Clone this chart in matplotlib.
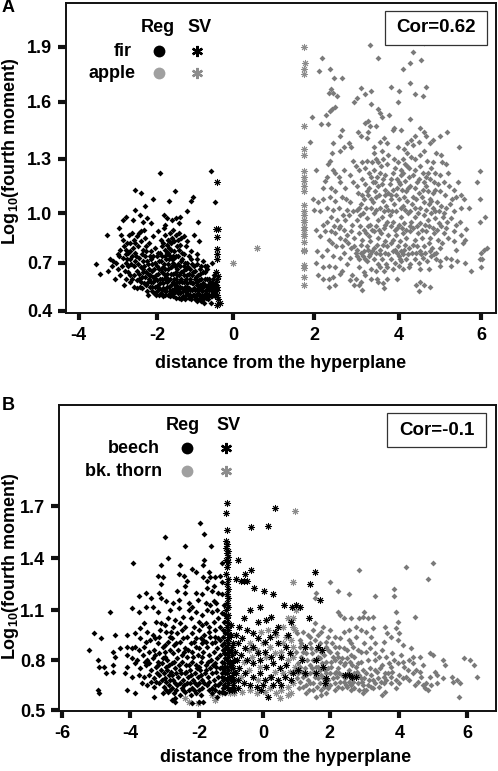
import numpy as np
import matplotlib
matplotlib.use('Agg')
import matplotlib.pyplot as plt
from matplotlib.patches import Rectangle

plt.rcParams['font.family'] = ['Liberation Sans', 'DejaVu Sans']
plt.rcParams['font.weight'] = 'bold'
plt.rcParams['mathtext.fontset'] = 'custom'
plt.rcParams['mathtext.bf'] = 'Liberation Sans:bold'

W, H = 498, 771

#-----------------------------------------------------
# values

A_XTICKS = [-4, -2, 0, 2, 4, 6]
A_YTICKS = [0.4, 0.7, 1.0, 1.3, 1.6, 1.9]
B_XTICKS = [-6, -4, -2, 0, 2, 4, 6]
B_YTICKS = [0.5, 0.8, 1.1, 1.4, 1.7]

# the printed ticks are not evenly spaced, so keep where each one sits
A_XTICK_PX = [78.7, 157, 233, 314, 399, 481]
A_YTICK_PX = [310.7, 262.7, 213.3, 158.7, 101.7, 47]
B_XTICK_PX = [62, 130, 199.3, 263, 329.7, 399.3, 467]
B_YTICK_PX = [710, 660, 610, 558.3, 506]

FIR_REG = [
(-1.92,1.22),(-0.59,1.23),(-2.57,1.13),(-2.42,1.11),(-1.53,1.12),(-2.1,1.08),(-1.68,1.07),(-1.06,1.09),(-1.1,1.07),(-0.48,1.06),
(-2.3,1.04),(-2.57,1.02),(-1.21,1.01),(-2.44,.99),(-1.82,.99),(-1.75,.97),(-1.4,.98),(-2.78,.98),(-2.88,.96),(-2.62,.96),
(-2.35,.95),(-2.25,.97),(-2.15,.94),(-1.6,.96),(-1.5,.97),(-1.43,.94),(-.93,.95),(-1.8,.93),(-3.27,.87),(-2.98,.91),
(-2.92,.87),(-2.86,.84),(-2.72,.87),(-2.65,.88),(-2.6,.84),(-2.52,.86),(-2.45,.88),(-2.4,.89),(-2.33,.9),(-2.3,.85),
(-2.2,.82),(-2.1,.86),(-1.97,.89),(-1.9,.84),(-1.82,.91),(-1.78,.87),(-1.72,.84),(-1.65,.88),(-1.58,.9),(-1.5,.87),
(-1.43,.88),(-1.38,.85),(-1.3,.86),(-1.2,.83),(-1.02,.87),(-.9,.83),(-2.85,.8),(-2.78,.78),(-2.7,.82),(-2.62,.79),
(-2.55,.76),(-2.48,.8),(-2.42,.83),(-2.35,.78),(-2.28,.8),(-2.15,.77),(-2.05,.79),(-1.98,.76),(-1.88,.8),(-1.8,.78),
(-1.75,.81),(-1.68,.79),(-1.62,.82),(-1.56,.77),(-1.48,.8),(-1.42,.78),(-1.35,.76),(-1.25,.8),(-1.1,.77),(-.95,.75),
(-3.55,.69),(-3.45,.63),(-3.2,.72),(-3.15,.68),(-3.25,.65),(-3.12,.71),(-3.05,.7),(-3.0,.66),(-3.08,.6),(-2.95,.62),
(-2.9,.68),(-2.88,.73),(-2.8,.75),(-2.8,.7),(-2.75,.64),(-2.7,.72),(-2.85,.56),(-2.7,.58),(-2.65,.74),(-2.6,.68),
(-2.58,.62),(-2.55,.71),(-2.5,.65),(-2.5,.59),(-2.46,.73),(-2.44,.55),(-2.42,.67),(-2.38,.61),(-2.36,.71),(-2.33,.57),
(-2.3,.74),(-2.28,.64),(-2.26,.52),(-2.22,.69),(-2.2,.6),(-2.18,.55),(-2.15,.72),(-2.13,.65),(-2.1,.58),(-2.08,.51),
(-2.05,.7),(-2.03,.62),(-2.0,.74),(-1.98,.56),(-1.96,.66),(-1.93,.6),(-1.9,.71),(-1.88,.53),(-1.86,.64),(-1.84,.57),
(-1.82,.69),(-1.8,.5),(-1.78,.74),(-1.76,.61),(-1.74,.55),(-1.72,.66),(-1.7,.59),(-1.68,.72),(-1.66,.52),(-1.64,.63),
(-1.62,.56),(-1.6,.68),(-1.58,.49),(-1.56,.6),(-1.54,.73),(-1.52,.54),(-1.5,.64),(-1.48,.58),(-1.46,.69),(-1.44,.51),
(-1.42,.62),(-1.4,.55),(-1.38,.71),(-1.36,.6),(-1.34,.48),(-1.32,.65),(-1.3,.53),(-1.28,.58),(-1.26,.7),(-1.24,.5),
(-1.22,.62),(-1.2,.55),(-1.18,.67),(-1.16,.48),(-1.14,.6),(-1.12,.53),(-1.1,.72),(-1.08,.57),(-1.06,.5),(-1.04,.64),
(-1.02,.54),(-1.0,.47),(-.98,.61),(-.96,.56),(-.94,.69),(-.92,.51),(-.9,.59),(-.88,.47),(-.86,.63),(-.84,.54),
(-.82,.5),(-.8,.71),(-.78,.57),(-.76,.45),(-.74,.6),(-.72,.52),(-.7,.48),(-.68,.66),(-.66,.55),(-.64,.6),
(-.62,.5),(-.6,.54),(-.58,.45),(-.56,.7),(-.54,.57),(-.52,.51),(-.5,.62),(-.5,.54),(-.48,.49),(-.46,.56),
(-2.47,.63),(-2.41,.58),(-2.35,.66),(-2.31,.61),(-2.24,.63),(-2.2,.66),(-2.16,.58),(-2.11,.61),(-2.07,.66),(-2.04,.55),
(-2.0,.59),(-1.97,.63),(-1.94,.54),(-1.91,.57),(-1.87,.6),(-1.85,.67),(-1.83,.54),(-1.79,.6),(-1.77,.52),(-1.75,.58),
(-1.73,.63),(-1.69,.55),(-1.67,.6),(-1.65,.49),(-1.63,.67),(-1.61,.53),(-1.59,.58),(-1.57,.63),(-1.55,.51),(-1.53,.56),
(-1.51,.6),(-1.49,.52),(-1.47,.62),(-1.45,.55),(-1.43,.48),(-1.41,.58),(-1.39,.51),(-1.37,.64),(-1.35,.54),(-1.33,.58),
(-1.31,.49),(-1.29,.62),(-1.27,.55),(-1.25,.6),(-1.23,.52),(-1.21,.57),(-1.19,.5),(-1.17,.63),(-1.15,.54),(-1.13,.58),
(-1.11,.47),(-1.09,.62),(-1.07,.53),(-1.05,.57),(-1.03,.5),(-1.01,.6),(-.99,.53),(-.97,.48),(-.95,.58),(-.93,.53),
(-.91,.62),(-.89,.5),(-.87,.56),(-.85,.46),(-.83,.6),(-.81,.52),(-.79,.55),(-.77,.49),(-.75,.64),(-.73,.56),
(-.71,.53),(-.69,.6),(-.67,.5),(-.65,.56),(-.63,.53),(-.61,.58),(-.59,.49),(-.57,.54),(-.55,.52),(-.53,.6),
# second pass over the thick part of the cloud
(-2.77,.82),(-2.68,.77),(-2.66,.69),(-2.57,.82),(-2.53,.74),(-2.49,.69),(-2.39,.75),(-2.37,.64),(-2.32,.68),(-2.27,.77),
(-2.25,.71),(-2.23,.58),(-2.19,.74),(-2.17,.62),(-2.12,.69),(-2.09,.74),(-2.06,.6),(-2.01,.68),(-1.99,.52),(-1.95,.71),
(-1.89,.66),(-1.81,.63),(-1.78,.66),(-1.71,.69),(-1.74,.76),(-1.69,.83),(-1.66,.74),(-1.63,.78),(-1.61,.85),(-1.6,.72),
(-1.55,.83),(-1.57,.7),(-1.53,.68),(-1.51,.74),(-1.47,.66),(-1.46,.84),(-1.44,.74),(-1.4,.68),(-1.39,.81),(-1.34,.72),
(-1.3,.68),(-1.28,.75),(-1.24,.66),(-1.21,.7),(-1.17,.74),(-1.14,.66),(-1.09,.69),(-1.03,.68),(-.99,.65),(-.96,.72),
(-.88,.66),(-.85,.68),(-.78,.64),(-.73,.68),(-.69,.68),(-2.94,.78),(-2.97,.74),(-2.75,.76),(-2.73,.68),(-2.69,.62),
(-2.63,.6),(-2.6,.55),(-2.52,.54),(-2.46,.6),(-2.39,.54),(-2.29,.56),(-2.24,.5),(-2.14,.52),(-2.12,.55),(-2.02,.5),
(-1.95,.5),(-1.9,.51),(-1.85,.49),(-1.81,.53),(-1.72,.5),(-1.68,.5),(-1.62,.5),(-1.56,.53),(-1.5,.48),(-1.46,.53),
(-1.38,.47),(-1.32,.52),(-1.26,.47),(-1.2,.51),(-1.14,.5),(-1.1,.49),(-.98,.5),(-.94,.46),(-.9,.54),(-.86,.49),
(-.8,.47),(-.74,.5),(-.7,.51),(-.65,.47),(-.62,.54),(-.58,.56),(-.55,.49),(-.52,.54),(-.48,.52),(-.46,.5),
(-3.0,.75),(-2.83,.65),(-2.78,.6),(-2.76,.72),(-1.92,.76),(-1.86,.74),(-1.84,.82),(-1.77,.72),(-1.7,.76),(-1.58,.74),
]
FIR_SV = [
(-.42,1.17),(-.44,.905),(-.4,.905),(-.42,.855),(-.42,.785),(-.42,.75),(-.42,.72),(-.4,.615),(-.44,.64),(-.42,.6),
(-.42,.55),(-.42,.53),(-.42,.5),(-.4,.47),(-.35,.45),(-.42,.435),(-.44,.58),
]
APPLE_REG = [
(3.32,1.91),(4.6,1.92),(4.34,1.87),(3.5,1.84),(4.53,1.83),(4.27,1.81),(2.18,1.84),(2.12,1.77),(2.37,1.78),(4.09,1.78),
(2.46,1.73),(2.65,1.73),(2.4,1.67),(2.45,1.65),(2.36,1.65),(2.55,1.63),(3.1,1.675),(3.2,1.64),(3.35,1.66),(3.0,1.62),
(2.93,1.6),(3.8,1.68),(4.0,1.66),(4.26,1.7),(4.65,1.68),(4.39,1.64),(4.58,1.63),(3.98,1.6),(3.35,1.59),(2.42,1.56),
(2.38,1.55),(2.5,1.57),(3.5,1.56),(3.55,1.54),(3.6,1.52),(3.76,1.53),(3.2,1.49),(3.28,1.5),(3.32,1.47),(3.28,1.44),
(3.45,1.47),(1.95,1.52),(2.28,1.53),(2.34,1.48),(2.16,1.48),(4.27,1.51),(2.65,1.45),(2.6,1.42),(2.45,1.38),(3.03,1.44),
(3.1,1.42),(3.25,1.41),(3.89,1.46),(3.85,1.45),(4.05,1.45),(3.55,1.39),(3.65,1.41),(3.72,1.38),(4.52,1.46),(4.6,1.44),
(4.66,1.42),(5.17,1.44),(5.0,1.42),(4.83,1.4),(4.75,1.38),(1.9,1.39),(5.47,1.36),(4.4,1.42),(4.3,1.4),(4.2,1.38),
(4.35,1.37),(4.48,1.39),(2.7,1.36),(2.6,1.34),(2.82,1.38),(2.88,1.36),(3.4,1.36),(3.42,1.33),(3.45,1.3),(3.6,1.34),
(3.62,1.3),(3.98,1.36),(4.12,1.35),(4.2,1.33),(4.3,1.31),(4.1,1.3),(3.98,1.28),(4.15,1.27),(4.25,1.25),(4.05,1.24),
(4.6,1.34),(4.9,1.33),(5.02,1.32),(5.05,1.28),(5.15,1.27),(4.82,1.28),(4.78,1.25),(4.7,1.22),(4.58,1.22),(5.2,1.22),
(5.0,1.21),(2.42,1.33),(2.38,1.29),(2.34,1.27),(2.45,1.24),(2.5,1.22),(2.58,1.2),(2.7,1.24),(2.92,1.29),(2.98,1.26),
(3.05,1.24),(3.2,1.25),(3.3,1.22),(3.4,1.24),(3.48,1.2),(3.55,1.22),(3.62,1.19),(3.72,1.27),(3.85,1.22),(3.95,1.19),
(4.05,1.21),(4.15,1.18),(4.25,1.2),(4.4,1.24),(4.48,1.19),(4.62,1.17),(4.75,1.19),(4.85,1.17),(4.95,1.16),(5.1,1.17),
(5.22,1.15),(5.35,1.13),(5.43,1.17),(2.05,1.24),(2.3,1.2),(2.2,1.14),(2.25,1.18),(2.4,1.14),(2.5,1.12),(2.62,1.17),
(2.74,1.14),(2.85,1.21),(2.92,1.17),(3.02,1.15),(3.12,1.19),(3.2,1.16),(3.3,1.14),(3.38,1.17),(3.5,1.15),(3.6,1.16),
(3.68,1.13),(3.78,1.16),(3.85,1.13),(3.95,1.14),(4.08,1.13),(4.18,1.12),(4.28,1.15),(4.38,1.14),(4.48,1.11),(4.58,1.13),
(4.7,1.12),(4.82,1.11),(5.0,1.12),(5.12,1.1),(5.3,1.08),(5.4,1.09),(5.5,1.1),(5.58,1.08),(1.98,1.08),(2.1,1.06),
(2.22,1.08),(2.38,1.09),(2.5,1.07),(2.65,1.09),(2.75,1.08),(2.85,1.06),(3.0,1.02),(3.1,1.05),(3.18,1.08),(3.28,1.1),
(3.38,1.06),(3.45,1.09),(3.55,1.03),(3.62,1.07),(3.7,1.04),(3.8,1.08),(3.88,1.05),(4.0,1.08),(4.1,1.04),(4.2,1.07),
(4.32,1.05),(4.42,1.08),(4.52,1.03),(4.6,1.06),(4.72,1.05),(4.82,1.03),(4.92,1.06),(5.02,1.04),(5.15,1.03),(5.25,1.05),
(5.35,1.01),(5.5,1.03),(2.0,1.02),(2.2,.93),(2.3,.95),(2.4,.98),(2.55,.96),(2.62,.92),(2.72,.96),(2.82,.99),
(2.9,.93),(3.0,.96),(3.08,.99),(3.15,1.0),(3.25,.97),(3.32,.93),(3.42,1.0),(3.5,.96),(3.6,.98),(3.68,.93),
(3.78,.99),(3.85,.95),(3.95,.91),(4.05,.98),(4.12,.94),(4.22,1.0),(4.3,.95),(4.4,.98),(4.5,.94),(4.6,.99),
(4.7,.96),(4.78,1.0),(4.88,.97),(4.98,.94),(5.08,.98),(5.18,.95),(5.28,.97),(5.38,.93),(5.48,.95),(2.5,.88),
(2.6,.85),(2.7,.9),(2.78,.87),(2.88,.89),(2.95,.85),(3.05,.88),(3.12,.84),(3.22,.88),(3.3,.86),(3.4,.89),
(3.5,.85),(3.58,.88),(3.66,.83),(3.75,.87),(3.85,.84),(3.92,.87),(4.02,.83),(4.1,.88),(4.18,.85),(4.28,.89),
(4.38,.84),(4.46,.88),(4.56,.85),(4.65,.89),(4.75,.85),(4.85,.88),(4.95,.84),(5.1,.88),(5.2,.85),(5.35,.89),
(5.5,.87),(5.6,.84),(5.55,.82),(2.05,.9),(2.15,.86),(2.35,.84),(2.42,.82),(2.52,.8),(2.95,.8),(3.02,.78),
(3.1,.81),(3.18,.77),(3.25,.8),(3.32,.83),(3.4,.79),(3.48,.81),(3.55,.78),(3.63,.81),(3.72,.8),(3.8,.82),
(3.9,.78),(3.98,.8),(4.06,.77),(4.15,.81),(4.24,.79),(4.34,.81),(4.44,.8),(4.52,.77),(4.62,.8),(4.72,.82),
(4.8,.79),(4.9,.76),(5.0,.79),(5.05,.82),(2.08,.77),(2.18,.74),(2.3,.78),(2.45,.74),(2.6,.73),(2.7,.76),
(2.85,.73),(2.98,.76),(3.05,.72),(3.15,.74),(3.25,.71),(3.32,.75),(3.42,.72),(3.5,.69),(3.6,.72),(3.7,.69),
(3.8,.72),(3.9,.7),(4.0,.74),(4.1,.75),(4.18,.72),(4.28,.69),(4.38,.72),(4.48,.7),(4.58,.73),(4.68,.71),
(4.78,.74),(4.9,.72),(5.0,.71),(5.15,.73),(5.28,.72),(5.42,.71),(2.05,.7),(2.2,.67),(2.35,.68),(2.5,.67),
(2.65,.65),(2.78,.69),(3.05,.67),(3.18,.64),(3.35,.66),(3.45,.65),(3.55,.67),(3.72,.67),(3.85,.66),(4.0,.68),
(4.1,.66),(4.25,.67),(4.5,.66),(4.72,.66),(5.0,.68),(5.28,.68),(2.1,.62),(2.22,.6),(2.35,.6),(2.45,.61),
(2.62,.63),(2.9,.62),(2.98,.6),(3.1,.58),(3.2,.62),(3.35,.6),(3.48,.6),(3.62,.57),(3.72,.6),(3.95,.6),
(2.35,.55),(2.5,.56),(2.85,.59),(3.12,.53),(3.5,.58),(3.65,.54),(4.42,.56),(4.52,.58),(4.62,.56),(4.48,.52),
(4.75,.55),(3.05,.56),(2.95,.56),(5.97,1.23),(5.9,1.17),(5.97,1.08),(5.7,1.03),(6.1,.98),(5.98,.95),(5.63,.905),
(6.15,.79),(6.08,.78),(6.0,.76),(5.97,.725),(6.02,.725),(6.0,.675),(5.75,.645),(5.62,.7),(5.4,.78),(5.35,.83),
# second pass over the thick part of the cloud
(3.03,1.11),(3.14,1.1),(3.24,1.12),(3.33,1.08),(3.43,1.12),(3.52,1.1),(3.66,1.1),(3.74,1.11),(3.82,1.1),(3.92,1.1),
(4.02,1.16),(4.12,1.09),(4.22,1.14),(4.34,1.09),(4.44,1.17),(4.56,1.09),(4.66,1.15),(4.76,1.08),(4.88,1.13),(3.08,.92),
(3.17,.9),(3.27,.92),(3.36,.9),(3.46,.92),(3.54,.9),(3.64,.91),(3.72,.95),(3.82,.92),(3.9,.9),(4.0,.93),
(4.08,.91),(4.16,.9),(4.26,.92),(4.35,.91),(4.44,.92),(4.55,.9),(4.64,.93),(4.74,.92),(4.84,.91),(4.93,.9),
(5.03,.92),(5.14,.91),(3.0,.74),(3.1,.76),(3.2,.72),(3.28,.78),(3.37,.77),(3.46,.76),(3.56,.75),(3.66,.76),
(3.75,.75),(3.85,.77),(3.95,.76),(4.04,.71),(4.13,.78),(4.22,.75),(4.32,.76),(4.42,.76),(4.54,.75),(4.64,.76),
(4.75,.77),(4.85,.75),(2.8,.82),(2.88,.79),(2.66,.8),(2.74,.84),(2.4,.89),(2.48,.92),(2.58,.91),(2.68,.99),
(2.78,1.02),(2.92,1.01),(3.05,1.03),(3.22,1.03),(3.34,1.03),(3.46,1.02),(3.65,1.01),(3.75,1.02),(3.84,1.01),(3.94,1.01),
(4.04,1.03),(4.15,1.02),(4.27,1.01),(4.38,1.03),(4.47,1.0),(4.66,1.02),(4.77,1.07),(4.87,1.01),(4.98,1.01),(5.1,1.0),
(3.34,1.2),(3.44,1.17),(3.58,1.26),(3.68,1.21),(3.8,1.19),(3.9,1.25),(4.0,1.17),(4.1,1.22),(4.2,1.26),(4.33,1.21),
(4.52,1.26),(4.65,1.2),(4.88,1.22),(3.12,1.28),(3.25,1.29),(3.36,1.28),(3.5,1.28),(3.75,1.32),(3.88,1.3),(4.4,1.3),
(4.5,1.32),(4.68,1.29),(2.15,1.01),(2.3,1.03),(2.45,1.02),(2.58,1.03),(2.25,.89),(3.3,.74),(4.02,.72),(3.64,.65),
]
APPLE_SV = [
(0,.7),(.59,.79),(1.75,1.9),(1.78,1.81),(1.75,1.78),(1.75,1.75),(1.75,1.47),(1.75,1.35),(1.75,1.32),(1.75,1.23),
(1.75,1.2),(1.75,1.18),(1.75,1.15),(1.75,1.12),(1.75,1.045),(1.75,1.01),(1.75,.96),(1.75,.945),(1.75,.915),(1.75,.875),
(1.75,.86),(1.75,.825),(1.75,.78),(1.75,.77),(1.75,.685),(1.75,.667),(1.75,.61),(1.75,.56),(1.75,.99),(1.75,.9),
]
BEECH_REG = [
(-1.98,1.6),(-1.85,1.54),(-3.0,1.52),(-2.4,1.47),(-1.63,1.47),(-2.9,1.4),(-3.9,1.37),(-3.1,1.36),(-2.55,1.36),(-2.2,1.34),
(-2.1,1.32),(-1.3,1.37),(-1.85,1.39),(-1.88,1.36),(-1.7,1.32),(-3.2,1.3),(-3.05,1.29),(-3.1,1.25),(-2.6,1.31),(-2.45,1.3),
(-2.35,1.27),(-2.4,1.24),(-1.87,1.29),(-1.75,1.27),(-1.65,1.29),(-1.52,1.29),(-1.55,1.24),(-1.3,1.26),(-1.35,1.3),(-1.75,1.23),
(-3.15,1.2),(-2.4,1.2),(-2.65,1.21),(-2.1,1.2),(-1.9,1.19),(-1.6,1.21),(-1.42,1.2),(-1.3,1.19),(-3.75,1.18),(-3.55,1.2),
(-3.4,1.17),(-3.1,1.17),(-2.95,1.15),(-2.75,1.14),(-2.6,1.16),(-2.3,1.14),(-2.05,1.16),(-1.8,1.14),(-1.65,1.13),(-1.55,1.15),
(-4.6,1.09),(-3.95,1.11),(-3.75,1.09),(-3.55,1.12),(-3.35,1.12),(-3.2,1.09),(-2.85,1.1),(-2.6,1.11),(-2.3,1.1),(-2.2,1.12),
(-2.1,1.09),(-1.9,1.07),(-1.75,1.1),(-1.6,1.09),(-1.45,1.1),(-1.3,1.08),(-3.25,1.03),(-3.1,1.02),(-2.9,1.05),(-2.75,1.0),
(-2.55,1.02),(-2.4,1.0),(-2.15,1.0),(-2.0,.98),(-1.8,1.02),(-1.68,1.0),(-1.55,1.03),(-1.35,1.0),(-1.22,1.03),(-3.7,.99),
(-3.5,.97),(-3.35,.95),(-3.15,.94),(-2.95,.97),(-2.8,.93),(-2.65,.96),(-2.5,.98),(-2.35,.94),(-2.2,.96),(-1.95,.93),
(-1.85,.95),(-1.7,.97),(-1.5,.94),(-1.35,.92),(-1.2,.96),(-5.05,.96),(-4.45,.95),(-4.1,.95),(-3.85,.96),(-3.7,.93),
(-3.55,.91),(-3.2,.9),(-3.05,.88),(-2.9,.91),(-2.72,.89),(-2.55,.91),(-2.42,.87),(-2.25,.9),(-2.1,.88),(-1.92,.9),
(-1.75,.88),(-1.6,.9),(-1.45,.87),(-1.3,.89),(-1.18,.87),(-4.85,.93),(-5.2,.86),(-4.1,.88),(-3.95,.87),(-3.85,.88),
(-3.75,.86),(-3.6,.88),(-3.45,.85),(-3.3,.86),(-3.15,.84),(-3.0,.85),(-2.85,.86),(-2.75,.84),(-2.62,.86),(-2.5,.83),
(-2.35,.82),(-2.2,.85),(-2.05,.83),(-1.88,.85),(-1.7,.83),(-1.55,.85),(-1.35,.83),(-1.2,.81),(-4.3,.87),(-4.5,.85),
(-4.95,.8),(-4.45,.82),(-4.1,.83),(-3.95,.81),(-3.8,.8),(-3.62,.83),(-3.5,.8),(-3.35,.81),(-3.2,.79),(-3.05,.81),
(-2.92,.8),(-2.8,.78),(-2.65,.81),(-2.5,.79),(-2.38,.77),(-2.22,.79),(-2.1,.77),(-1.95,.79),(-1.8,.77),(-1.62,.8),
(-1.5,.78),(-1.3,.79),(-1.2,.76),(-4.9,.76),(-4.75,.76),(-4.5,.77),(-4.1,.76),(-3.85,.78),(-3.7,.75),(-3.55,.77),
(-3.4,.74),(-3.25,.76),(-3.1,.74),(-2.95,.76),(-2.82,.73),(-2.7,.75),(-2.55,.74),(-2.42,.72),(-2.28,.74),(-2.12,.72),
(-1.98,.74),(-1.82,.72),(-1.65,.75),(-1.48,.73),(-1.35,.75),(-1.2,.72),(-4.7,.72),(-4.5,.73),(-4.15,.72),(-3.95,.7),
(-3.75,.71),(-3.6,.7),(-3.45,.71),(-3.3,.69),(-3.15,.71),(-3.0,.69),(-2.88,.71),(-2.75,.68),(-2.62,.7),(-2.48,.68),
(-2.32,.7),(-2.18,.68),(-2.05,.7),(-1.9,.68),(-1.72,.7),(-1.55,.68),(-1.4,.7),(-1.25,.68),(-3.65,.66),(-3.5,.65),
(-3.3,.64),(-3.15,.66),(-3.02,.64),(-2.88,.65),(-2.78,.63),(-2.65,.65),(-2.5,.63),(-2.35,.66),(-2.2,.63),(-2.08,.65),
(-1.92,.63),(-1.75,.65),(-1.6,.63),(-1.42,.65),(-1.25,.63),(-4.95,.62),(-4.9,.6),(-4.1,.62),(-3.85,.6),(-3.05,.6),
(-2.9,.61),(-2.72,.6),(-2.55,.59),(-2.4,.61),(-2.25,.59),(-2.1,.6),(-1.95,.59),(-1.6,.6),(-1.38,.61),(-3.3,.58),
(-2.78,.56),(-2.7,.55),(-2.2,.54),(-2.0,.55),(-1.88,.55),(-2.7,.57),(-1.45,.58),
# second pass over the thick part of the cloud
(-3.42,.92),(-3.27,.93),(-3.12,.98),(-2.98,.89),(-2.82,.97),(-2.66,.9),(-2.48,.93),(-2.32,.86),(-2.16,.91),(-2.02,.87),
(-1.87,.92),(-1.78,.91),(-1.66,.94),(-1.52,.91),(-1.42,.93),(-1.27,.94),(-1.22,.9),(-1.26,.86),(-3.58,.79),(-3.44,.78),
(-3.28,.83),(-3.18,.77),(-3.08,.78),(-2.98,.82),(-2.88,.77),(-2.72,.79),(-2.58,.77),(-2.45,.85),(-2.3,.77),(-2.18,.82),
(-2.02,.76),(-1.9,.82),(-1.74,.79),(-1.58,.77),(-1.44,.81),(-1.28,.76),(-1.22,.84),(-1.24,.74),(-3.22,.72),(-3.02,.72),
(-2.92,.74),(-2.78,.71),(-2.66,.72),(-2.52,.72),(-2.38,.73),(-2.24,.71),(-2.08,.75),(-1.94,.71),(-1.78,.74),(-1.6,.72),
(-1.46,.76),(-1.3,.72),(-1.22,.69),(-3.38,.67),(-3.24,.67),(-3.08,.68),(-2.95,.67),(-2.84,.68),(-2.7,.66),(-2.56,.66),
(-2.44,.65),(-2.26,.66),(-2.12,.66),(-2.0,.66),(-1.84,.66),(-1.68,.67),(-1.5,.65),(-1.34,.66),(-1.22,.65),(-2.96,.62),
(-2.84,.62),(-2.66,.62),(-2.46,.62),(-2.3,.62),(-2.14,.62),(-2.0,.62),(-1.7,.62),(-1.52,.62),(-1.3,.61),(-1.18,.6),
(-1.5,.98),(-1.25,.98),(-1.42,1.05),(-1.2,1.07),(-1.22,1.13),(-1.48,1.14),(-2.7,1.04),(-2.47,1.06),(-2.25,1.05),(-2.02,1.03),
(-1.9,1.01),(-3.0,1.01),(-3.6,1.02),(-1.28,.7),(-1.25,.61),(-1.24,.78),(-2.86,.94),(-2.1,.93),
]
BEECH_SV = [
(-1.12,1.72),(-1.15,1.66),(-1.12,1.56),(-1.15,1.5),(-1.12,1.48),(-1.15,1.46),(-1.1,1.44),(-1.14,1.43),(-1.1,1.41),(-1.15,1.39),
(-1.1,1.38),(-1.12,1.35),(-1.15,1.31),(-1.1,1.28),(-1.13,1.25),(-1.1,1.22),(-1.14,1.19),(-1.1,1.17),(-1.13,1.14),(-1.1,1.12),
(-1.15,1.1),(-1.1,1.07),(-1.13,1.05),(-1.1,1.02),(-1.14,1.0),(-1.1,.98),(-1.13,.96),(-1.08,.94),(-1.14,.92),(-1.1,.9),
(-1.13,.88),(-1.08,.86),(-1.14,.84),(-1.1,.82),(-1.13,.8),(-1.07,.78),(-1.14,.76),(-1.1,.74),(-1.13,.72),(-1.07,.7),
(-1.14,.68),(-1.1,.66),(-1.13,.64),(-1.08,.62),(-1.0,1.01),(-1.0,.95),(-.95,.9),(-1.0,.85),(-.92,.8),(-1.0,.76),
(-.95,.72),(-1.0,.68),(-.95,.65),(.37,1.69),(-.38,1.58),(.16,1.585),(-.37,1.33),(1.55,1.32),(1.4,1.25),(1.7,1.16),
(1.37,1.05),(.63,1.13),(.88,1.12),(1.0,1.13),(1.1,1.12),(.03,1.21),(-.28,1.23),(.3,1.19),(-.8,1.39),(-.55,1.31),
(-.6,1.27),(-.85,1.28),(-.7,1.27),(-.5,1.27),(-.1,1.12),(-.4,1.1),(.25,1.06),(.1,1.04),(-.15,1.03),(.45,1.0),
(.35,.97),(.75,.95),(.85,1.03),(-.6,1.05),(-.75,1.0),(-.5,.98),(-.3,.96),(-.15,.93),(.05,.91),(.2,.94),
(.45,.9),(.7,.88),(-.65,.93),(-.8,.9),(-.55,.87),(-.3,.88),(-.15,.84),(.05,.85),(.25,.82),(.55,.82),
(.8,.84),(1.25,.88),(1.18,.8),(1.65,.88),(1.78,.86),(-.7,.83),(-.5,.8),(-.3,.78),(-.1,.8),(.1,.76),
(.3,.78),(.5,.75),(.68,.77),(.9,.72),(1.05,.74),(1.6,.8),(1.8,.76),(1.6,.72),(-.75,.75),(-.55,.72),
(-.3,.7),(-.1,.72),(.05,.68),(.25,.7),(.45,.68),(.65,.7),(.85,.68),(1.25,.72),(1.9,.69),(1.85,.66),
(2.45,.71),(2.55,.71),(2.65,.7),(2.75,.7),(-.8,.68),(-.6,.66),(-.4,.65),(-.2,.64),(.0,.65),(.3,.65),
(.55,.65),(.15,.58),(-.05,.62),(-.8,.63),(-.98,.78),(-.96,.83),(-.97,.7),(-.98,.88),(-.93,.75),(-.9,.68),
(-.88,.85),(-.86,.95),(-.85,.72),(-.82,.8),(-.9,.62),(-.97,.62),
]
THORN_REG = [
(2.85,1.33),(4.2,1.35),(5.0,1.37),(4.85,1.28),(2.0,1.26),(2.25,1.21),(2.55,1.19),(3.3,1.18),(3.85,1.22),(3.85,1.18),
(1.6,1.2),(1.55,1.17),(2.25,1.09),(2.3,1.07),(2.4,1.05),(3.0,1.09),(2.95,1.06),(2.85,1.05),(2.6,1.05),(3.1,1.05),
(3.25,1.06),(3.9,1.09),(3.95,1.03),(4.45,1.06),(1.8,1.0),(1.55,1.02),(1.75,.97),(2.0,.98),(2.15,.94),(2.4,.97),
(2.55,.98),(2.75,1.0),(2.9,.98),(3.05,.97),(3.25,.99),(3.6,1.0),(3.65,.96),(3.9,.99),(4.0,.96),(1.2,.97),
(1.35,.95),(1.55,.92),(1.7,.9),(1.9,.91),(2.15,.88),(2.3,.93),(2.55,.92),(2.75,.94),(3.0,.9),(3.2,.94),
(3.55,.91),(3.75,.94),(3.95,.92),(4.1,.89),(4.35,.87),(4.6,.82),(4.9,.84),(1.1,.92),(1.25,.88),(1.45,.87),
(1.75,.85),(2.0,.85),(2.2,.84),(2.4,.87),(2.6,.83),(2.8,.86),(3.05,.85),(3.3,.84),(3.5,.86),(3.8,.84),
(4.05,.83),(4.4,.82),(5.0,.83),(5.3,.8),(5.35,.77),(5.9,.81),(6.1,.8),(6.2,.77),(6.3,.7),(1.0,.85),
(1.15,.82),(1.3,.84),(1.5,.8),(1.7,.81),(1.9,.79),(2.1,.82),(2.3,.79),(2.5,.81),(2.7,.82),(2.9,.79),
(3.1,.8),(3.3,.8),(3.5,.77),(3.75,.76),(3.95,.78),(4.15,.76),(4.4,.78),(4.7,.77),(4.25,.74),(1.05,.78),
(1.25,.75),(1.4,.77),(1.6,.76),(1.85,.74),(2.05,.76),(2.25,.75),(2.4,.77),(2.55,.74),(2.75,.76),(2.95,.74),
(3.15,.75),(3.35,.73),(3.6,.72),(3.8,.73),(4.0,.71),(4.2,.7),(4.4,.72),(4.65,.7),(4.9,.7),(5.05,.73),
(1.05,.72),(1.2,.7),(1.4,.72),(1.55,.7),(1.75,.71),(2.0,.72),(2.2,.7),(2.35,.71),(2.6,.69),(2.85,.71),
(3.0,.69),(3.2,.71),(3.4,.69),(3.55,.7),(3.75,.7),(3.9,.68),(4.1,.69),(4.3,.68),(4.55,.67),(4.8,.66),
(5.1,.71),(5.3,.69),(5.55,.7),(5.7,.68),(5.8,.66),(5.1,.66),(1.1,.67),(1.3,.65),(1.5,.66),(1.7,.66),
(1.9,.65),(2.15,.66),(2.4,.67),(2.6,.65),(2.8,.66),(2.95,.65),(3.1,.65),(3.3,.66),(3.55,.66),(3.75,.66),
(4.0,.66),(4.45,.65),(4.7,.65),(4.85,.62),(4.95,.65),(5.6,.67),(1.5,.62),(1.75,.62),(1.95,.63),(2.15,.62),
(2.35,.63),(2.6,.62),(2.85,.62),(3.05,.62),(3.6,.61),(3.9,.63),(4.75,.63),(1.6,.58),(1.75,.59),(1.9,.6),
(2.95,.6),(3.0,.62),(3.5,.59),(5.75,.58),(2.5,.64),(3.25,.63),(1.95,.68),(2.7,.72),(3.45,.75),(4.6,.73),
# second pass over the thick part of the cloud
(1.02,.96),(1.12,.88),(1.2,.85),(1.32,.8),(1.4,.9),(1.48,.84),(1.58,.86),(1.66,.82),(1.82,.83),(1.95,.86),
(2.05,.79),(2.15,.8),(2.25,.82),(2.35,.81),(2.45,.78),(2.58,.79),(2.65,.77),(2.82,.78),(1.0,.74),(1.12,.76),
(1.18,.73),(1.3,.71),(1.35,.68),(1.46,.75),(1.52,.73),(1.65,.69),(1.7,.74),(1.8,.69),(1.9,.72),(2.1,.69),
(2.18,.73),(2.28,.72),(2.45,.69),(2.52,.72),(2.62,.71),(2.68,.67),(2.78,.73),(2.9,.69),(3.05,.72),(3.12,.68),
(3.25,.68),(3.3,.74),(3.48,.67),(3.62,.68),(3.68,.72),(1.02,.69),(1.2,.64),(1.38,.62),(1.62,.64),(1.82,.64),
(2.02,.65),(2.25,.64),(2.48,.65),(2.7,.63),(2.92,.67),(3.18,.64),(3.42,.64),(1.08,.63),(1.28,.6),(1.42,.66),
(1.65,.76),(1.78,.78),(1.95,.75),(2.15,.72),(2.3,.67),(2.56,.67),(1.15,.9),(1.42,.94),(1.65,.95),(1.88,.88),
(2.08,.9),(2.28,.88),(2.5,.86),(2.68,.88),(2.9,.85),(3.15,.87),(3.42,.82),(3.62,.82),(3.85,.8),(4.1,.79),
(4.28,.8),(4.5,.74),(3.7,.78),(1.5,.98),(1.95,.94),(2.6,.9),(3.3,.9),
]
THORN_SV = [
(.95,1.67),(.9,1.26),(.9,1.0),(.75,1.05),(.9,1.05),(1.0,1.1),(.95,.98),(.85,.92),(.9,.88),(.7,.94),
(.6,.9),(.4,.95),(.2,.88),(.0,.9),(-.2,.86),(-.4,.9),(.9,.82),(.75,.8),(.55,.85),(.35,.84),
(.1,.82),(-.1,.76),(-.35,.82),(-.6,.79),(-.9,.73),(.95,.76),(.8,.73),(.6,.72),(.35,.73),(.2,.7),
(-.15,.68),(-.45,.74),(-.7,.7),(-.95,.66),(.9,.66),(.75,.64),(.55,.62),(.4,.6),(.2,.63),(.05,.61),
(-.2,.6),(-.4,.62),(-.65,.61),(-.9,.6),(.5,.57),(.75,.59),(.85,.6),(-1.5,.56),(-1.05,.6),(-1.3,.6),
(-1.6,.59),(-2.3,.55),(-2.05,.54),(-2.4,.57),(-.45,.86),(.15,.98),(.6,1.0),(-.05,.97),
]

def split(points):
  return [p[0] for p in points], [p[1] for p in points]

#-----------------------------------------------------

def warped(vals, px):
  # value <-> printed pixel, straight lines between neighbouring ticks
  vals = np.array(vals, dtype=float)
  px = np.array(px, dtype=float)
  if px[-1] < px[0]:
    px = -px
  lo = (px[1] - px[0]) / (vals[1] - vals[0])
  hi = (px[-1] - px[-2]) / (vals[-1] - vals[-2])
  v = np.concatenate([[vals[0] - 100], vals, [vals[-1] + 100]])
  p = np.concatenate([[px[0] - 100 * lo], px, [px[-1] + 100 * hi]])
  return (lambda d: np.interp(d, v, p)), (lambda q: np.interp(q, p, v))


def panel(fig, box, xticks, xpx, yticks, ypx):
  left, top, right, bottom = box
  ax = fig.add_axes([left / W, 1 - bottom / H, (right - left) / W, (bottom - top) / H])
  xf, xi = warped(xticks, xpx)
  yf, yi = warped(yticks, ypx)
  ax.set_xscale('function', functions=(xf, xi))
  ax.set_yscale('function', functions=(yf, yi))
  ax.set_xlim(float(xi(left)), float(xi(right)))
  ax.set_ylim(float(yi(-bottom)), float(yi(-top)))
  ax.set_xticks(xticks)
  ax.set_xticklabels([str(t) for t in xticks])
  ax.set_yticks(yticks)
  ax.set_yticklabels([f'{t:.1f}' for t in yticks])
  ax.minorticks_off()
  ax.tick_params(axis='x', length=5, width=3, pad=5, labelsize=13, color='#111111')
  ax.tick_params(axis='y', length=6, width=3, pad=4, labelsize=13, color='#111111')
  for s in ax.spines.values():
    s.set_linewidth(1.4)
    s.set_color('#111111')
  return ax


def reg(ax, points, color):
  x, y = split(points)
  ax.scatter(x, y, s=9, marker='D', color=color, linewidths=0, zorder=3)


def sv(ax, points, color, size=20):
  x, y = split(points)
  ax.scatter(x, y, s=size, marker=(8, 2, 0), color=color, linewidths=0.7, zorder=3)


def key(fig, heads, rows):
  # little Reg / SV table; everything in picture pixels
  for text, px, py in heads:
    fig.text(px / W, 1 - py / H, text, ha='center', va='center', fontsize=13)
  for name, nx, ny, cx, sx, col, col2 in rows:
    fig.text(nx / W, 1 - ny / H, name, ha='right', va='center', fontsize=13)
    fig.add_artist(plt.Line2D([cx / W], [1 - ny / H], marker='o', ms=8.5, color=col, mew=0, transform=fig.transFigure))
    fig.add_artist(plt.Line2D([sx / W], [1 - ny / H], marker=(6, 2, 0), ms=8, color=col2, mew=1.7, transform=fig.transFigure))


def cor_box(fig, left, top, right, bottom, label):
  fig.add_artist(Rectangle((left / W, 1 - bottom / H), (right - left) / W, (bottom - top) / H,
                           transform=fig.transFigure, fc='white', ec='#333333', lw=0.9))
  fig.text((left + right) / 2 / W, 1 - (top + bottom) / 2 / H, label, ha='center', va='center', fontsize=13.5)


def main():
  fig = plt.figure(figsize=(W / 100, H / 100), dpi=100)
  grey = '#7a7a7a'

  # A
  ax = panel(fig, (66, 3, 496, 312.7), A_XTICKS, A_XTICK_PX, A_YTICKS, A_YTICK_PX)
  reg(ax, APPLE_REG, grey)
  sv(ax, APPLE_SV, '#8c8c8c')
  reg(ax, FIR_REG, 'black')
  sv(ax, FIR_SV, 'black')
  fig.text(281 / W, 1 - 363 / H, 'distance from the hyperplane', ha='center', va='center', fontsize=13)
  fig.text(11 / W, 1 - 151 / H, r'Log$_{\mathbf{10}}$(fourth moment)', rotation=90, ha='center', va='center', fontsize=13)
  fig.text(2 / W, 1 - 8 / H, 'A', ha='left', va='center', fontsize=13)
  key(fig, [('Reg', 158, 27), ('SV', 199.7, 27)],
      [('fir', 131.7, 51, 158.7, 197, 'black', 'black'),
       ('apple', 135.7, 73, 158.7, 197, '#a0a0a0', '#8c8c8c')])
  cor_box(fig, 384.7, 10.7, 486.7, 45, 'Cor=0.62')

  # B
  ax = panel(fig, (59.3, 405, 495.7, 711.3), B_XTICKS, B_XTICK_PX, B_YTICKS, B_YTICK_PX)
  sv(ax, THORN_SV, '#8c8c8c')
  reg(ax, THORN_REG, grey)
  reg(ax, BEECH_REG, 'black')
  sv(ax, BEECH_SV, 'black')
  fig.text(286 / W, 1 - 758 / H, 'distance from the hyperplane', ha='center', va='center', fontsize=13)
  fig.text(10.5 / W, 1 - 566 / H, r'Log$_{\mathbf{10}}$(fourth moment)', rotation=90, ha='center', va='center', fontsize=13)
  fig.text(2 / W, 1 - 406 / H, 'B', ha='left', va='center', fontsize=13)
  key(fig, [('Reg', 183.3, 425), ('SV', 228.7, 425)],
      [('beech', 160, 448, 186.7, 226, 'black', 'black'),
       ('bk. thorn', 162.3, 471, 186.7, 226, '#a0a0a0', '#8c8c8c')])
  cor_box(fig, 387.3, 413.3, 486, 447.3, 'Cor=-0.1')

  fig.savefig('out.png', dpi=100)


if __name__ == "__main__":
  main()
